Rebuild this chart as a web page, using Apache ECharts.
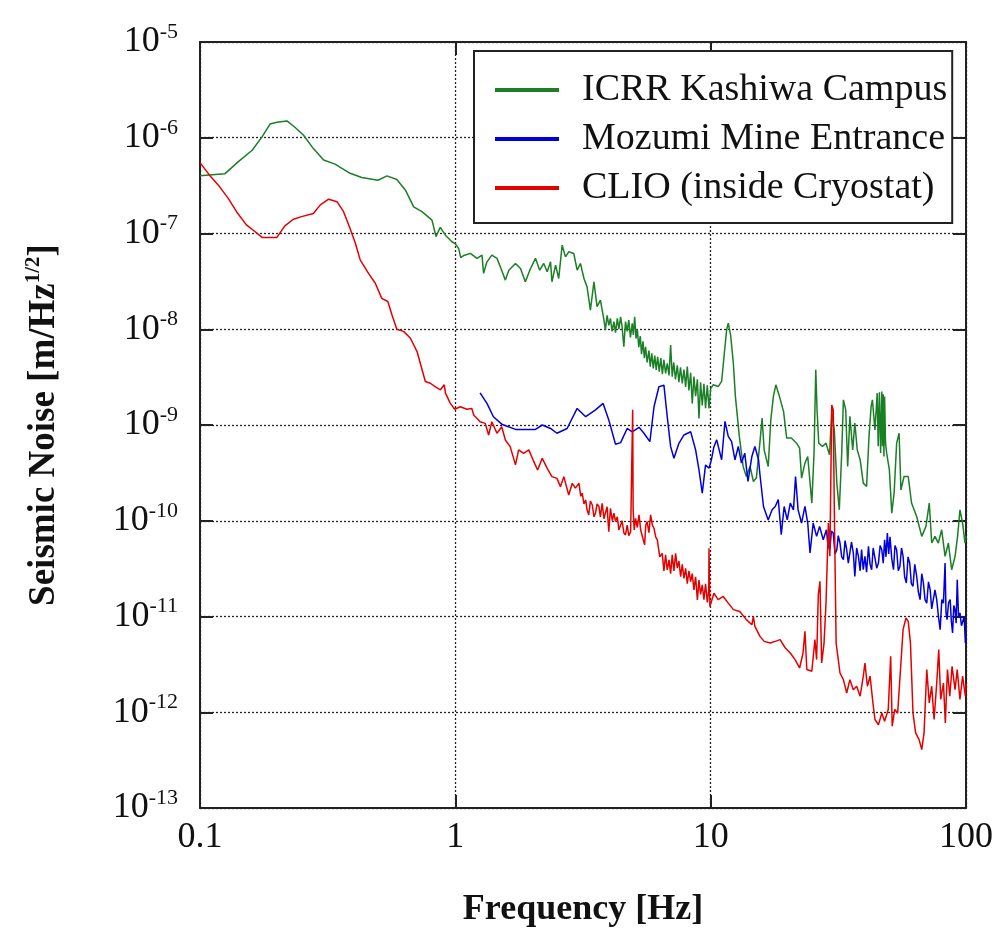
<!DOCTYPE html>
<html>
<head>
<meta charset="utf-8">
<title>Seismic Noise</title>
<script src="https://cdn.jsdelivr.net/npm/echarts@6/dist/echarts.min.js"></script>
<style>
  html, body { margin: 0; padding: 0; background: #fff; }
  #chart { width: 994px; height: 929px; }
</style>
</head>
<body>
<div id="chart"></div>
<script>
// Seismic noise spectra, each point is [frequency in Hz, amplitude in m/Hz^1/2]

const seriesNames = ['ICRR Kashiwa Campus', 'Mozumi Mine Entrance', 'CLIO (inside Cryostat)'];
const xTickLabels = ['0.1', '1', '10', '100'];

const kashiwa = [
  [0.1, 4.0e-7], [0.125, 4.2e-7], [0.141, 5.6e-7], [0.160, 7.4e-7], [0.175, 1.02e-6], [0.188, 1.39e-6],
  [0.200, 1.45e-6], [0.219, 1.50e-6], [0.236, 1.28e-6], [0.254, 1.07e-6], [0.278, 7.7e-7], [0.305, 5.85e-7],
  [0.338, 5.3e-7], [0.387, 4.25e-7], [0.430, 3.85e-7], [0.498, 3.6e-7], [0.540, 4.0e-7], [0.590, 3.67e-7],
  [0.637, 2.85e-7], [0.687, 1.9e-7], [0.740, 1.69e-7], [0.810, 1.38e-7], [0.840, 9.3e-8], [0.873, 1.16e-7],
  [0.914, 9.6e-8], [0.970, 8.2e-8], [1.0, 7.8e-8], [1.03, 7.0e-8], [1.05, 5.6e-8], [1.08, 5.9e-8],
  [1.145, 6.2e-8], [1.216, 5.5e-8], [1.272, 5.94e-8], [1.29, 3.83e-8], [1.33, 5.06e-8], [1.39, 5.94e-8],
  [1.456, 5.5e-8], [1.50, 4.49e-8], [1.57, 3.26e-8], [1.62, 4.14e-8], [1.72, 4.86e-8], [1.80, 4.31e-8],
  [1.88, 3.13e-8], [1.97, 4.31e-8], [2.06, 5.5e-8], [2.14, 4.14e-8], [2.22, 4.86e-8], [2.29, 3.98e-8],
  [2.36, 5.06e-8], [2.39, 3.13e-8], [2.47, 4.67e-8], [2.54, 3.39e-8], [2.62, 7.55e-8], [2.70, 5.7e-8],
  [2.78, 6.44e-8], [2.91, 6.18e-8], [3.0, 4.14e-8], [3.09, 4.86e-8], [3.19, 3.39e-8], [3.28, 2.77e-8],
  [3.38, 1.58e-8], [3.49, 3.13e-8], [3.59, 1.72e-8], [3.70, 2.01e-8],
  [3.82, 1.25e-8], [3.87, 9.8e-9], [3.93, 1.4e-8], [3.99, 1.1e-8], [4.05, 1.3e-8], [4.11, 9.5e-9],
  [4.18, 1.2e-8], [4.24, 9.2e-9], [4.31, 1.3e-8], [4.37, 1.0e-8], [4.44, 1.35e-8], [4.50, 1.05e-8],
  [4.57, 6.56e-9], [4.64, 1.2e-8], [4.71, 9.5e-9], [4.78, 1.25e-8], [4.85, 8.2e-9], [4.93, 1.15e-8],
  [4.98, 8.7e-9], [5.04, 1.35e-8], [5.10, 8.0e-9], [5.16, 1.0e-8], [5.23, 6.5e-9], [5.30, 8.5e-9],
  [5.36, 5.5e-9], [5.43, 7.5e-9], [5.50, 5.0e-9], [5.56, 6.56e-9], [5.64, 4.5e-9], [5.73, 6.0e-9],
  [5.80, 4.07e-9], [5.88, 5.6e-9], [5.96, 3.9e-9], [6.04, 5.3e-9], [6.12, 3.75e-9], [6.20, 5.16e-9],
  [6.29, 3.6e-9], [6.38, 5.0e-9], [6.47, 3.4e-9], [6.56, 4.8e-9], [6.66, 3.46e-9], [6.76, 4.4e-9],
  [6.87, 3.3e-9], [6.97, 6.84e-9], [7.07, 3.19e-9], [7.17, 4.5e-9], [7.28, 3.0e-9], [7.40, 4.2e-9],
  [7.51, 2.8e-9], [7.62, 4.0e-9], [7.74, 2.72e-9], [7.86, 3.8e-9], [7.98, 2.5e-9], [8.10, 4.07e-9],
  [8.22, 2.3e-9], [8.35, 3.5e-9], [8.47, 1.68e-9], [8.60, 3.2e-9], [8.73, 2.0e-9], [8.87, 3.0e-9],
  [9.0, 1.17e-9], [9.13, 2.8e-9], [9.27, 1.6e-9], [9.41, 2.7e-9], [9.55, 1.5e-9], [9.70, 2.6e-9],
  [9.85, 1.49e-9], [10.0, 2.4e-9], [10.15, 2.51e-9], [10.24, 2.63e-9], [10.7, 2.52e-9], [11.04, 2.85e-9],
  [11.28, 5.19e-9], [11.55, 9.84e-9], [11.72, 1.16e-8], [11.97, 8.7e-9], [12.27, 4.41e-9], [12.5, 1.98e-9],
  [12.95, 7.6e-10], [13.4, 3.69e-10], [13.8, 2.9e-10], [14.26, 3.69e-10], [14.7, 2.57e-10], [15.1, 2.79e-10],
  [15.6, 6.7e-10], [15.9, 1.18e-9], [16.2, 5.5e-10], [16.8, 3.69e-10], [17.2, 1.13e-9], [17.6, 1.98e-9],
  [18.0, 2.63e-9], [18.6, 1.98e-9], [19.3, 1.38e-9], [19.85, 7.3e-10], [20.7, 7.3e-10], [21.7, 6.46e-10],
  [22.3, 5.73e-10], [22.7, 2.79e-10], [23.4, 4.0e-10], [24.0, 4.69e-10], [24.9, 1.53e-10], [25.4, 5.08e-10],
  [25.8, 3.77e-9], [26.1, 1.44e-9], [26.5, 6.46e-10], [27.4, 5.97e-10], [28.3, 6.46e-10], [29.2, 4.89e-10],
  [29.8, 1.33e-9], [30.5, 8.9e-10], [31.2, 2.47e-10], [31.9, 1.3e-10], [32.6, 5.08e-10], [33.1, 1.83e-9],
  [33.8, 1.44e-9], [34.4, 3.69e-10], [35.1, 1.23e-9], [36.0, 5.5e-10], [36.7, 1.05e-9], [37.5, 5.5e-10],
  [38.5, 4.33e-10], [39.6, 2.47e-10], [40.8, 2.28e-10], [41.7, 7.6e-10], [42.5, 1.56e-9], [43.0, 1.83e-9],
  [44.0, 8.9e-10], [44.9, 2.15e-9], [45.3, 6.0e-10], [45.8, 2.2e-9], [46.3, 5.1e-10], [46.8, 2.24e-9],
  [47.1, 6.0e-10], [47.4, 2.1e-9], [47.7, 4.7e-10], [48.0, 1.98e-9], [48.4, 6.5e-10], [48.9, 5.08e-10],
  [50.1, 3.4e-10], [51.2, 1.2e-10], [52.3, 1.95e-10], [53.5, 6.46e-10], [54.7, 8.2e-10], [55.6, 2.1e-10],
  [57.2, 2.9e-10], [59.4, 2.9e-10], [61.2, 1.53e-10], [64.1, 1.11e-10], [67.1, 6.87e-11], [69.7, 8.73e-11],
  [71.8, 1.53e-10], [73.4, 5.85e-11], [75.6, 6.87e-11], [77.9, 5.85e-11], [80.3, 8.05e-11], [82.8, 4.25e-11],
  [85.3, 5.85e-11], [87.9, 3.08e-11], [90.6, 4.25e-11], [92.7, 6.87e-11], [94.7, 1.3e-10], [97.0, 9.46e-11],
  [99.1, 5.85e-11], [100, 7.0e-11]
];

const mozumi = [
  [1.25, 2.17e-9], [1.33, 1.68e-9], [1.41, 1.22e-9], [1.52, 1.02e-9], [1.72, 9.0e-10], [2.06, 9.0e-10],
  [2.19, 1.0e-9], [2.36, 9.2e-10], [2.50, 8.2e-10], [2.74, 9.2e-10], [3.0, 1.49e-9], [3.24, 1.22e-9],
  [3.54, 1.44e-9], [3.79, 1.68e-9], [3.99, 1.13e-9], [4.24, 6.3e-10], [4.44, 6.55e-10], [4.71, 9.2e-10],
  [4.93, 8.5e-10], [5.24, 9.46e-10], [5.48, 8.2e-10], [5.78, 6.7e-10], [6.0, 1.55e-9], [6.27, 2.51e-9],
  [6.56, 2.61e-9], [6.76, 1.22e-9], [6.97, 5.94e-10], [7.18, 4.49e-10], [7.51, 6.44e-10], [7.86, 7.87e-10],
  [8.35, 8.5e-10], [8.73, 5.5e-10], [9.0, 3.39e-10], [9.27, 1.94e-10], [9.55, 3.83e-10], [9.85, 3.53e-10],
  [10.06, 4.3e-10], [10.3, 5.94e-10], [10.56, 7.0e-10], [11.04, 4.33e-10], [11.38, 1.09e-9], [11.72, 7.6e-10],
  [12.08, 6.7e-10], [12.45, 4.33e-10], [12.83, 5.97e-10], [13.2, 4.0e-10], [13.6, 5.08e-10], [14.0, 2.57e-10],
  [14.5, 4.69e-10], [14.9, 5.97e-10], [15.4, 4.33e-10], [15.6, 3.02e-10], [16.1, 1.41e-10], [16.8, 1.02e-10],
  [17.4, 1.3e-10], [17.9, 1.41e-10], [18.4, 1.66e-10], [18.9, 7.15e-11], [19.4, 1.41e-10], [19.95, 1.02e-10],
  [20.5, 1.53e-10], [21.1, 1.3e-10], [21.5, 2.9e-10], [22.0, 1.3e-10], [22.7, 9.46e-11], [23.4, 1.41e-10],
  [24.0, 9.46e-11], [24.5, 4.6e-11], [25.2, 9.46e-11], [26.0, 6.87e-11], [26.7, 8.73e-11], [27.6, 6.34e-11],
  [28.4, 8.05e-11], [28.8, 5.5e-11], [29.3, 4.98e-11], [29.7, 7.8e-11], [30.2, 7.43e-11], [30.7, 4.5e-11],
  [31.2, 4.98e-11], [31.6, 7.0e-11], [32.1, 5.85e-11], [32.6, 4.2e-11], [33.1, 3.92e-11], [33.6, 6.2e-11],
  [34.1, 4.98e-11], [34.6, 3.6e-11], [35.1, 3.61e-11], [35.6, 6.0e-11], [36.2, 4.6e-11], [36.7, 2.62e-11],
  [37.3, 5.2e-11], [37.9, 4.25e-11], [38.5, 3.0e-11], [39.0, 5.0e-11], [39.6, 3.08e-11], [40.2, 4.25e-11],
  [40.8, 2.9e-11], [41.5, 5.4e-11], [42.1, 3.5e-11], [42.7, 3.08e-11], [43.3, 5.2e-11], [44.0, 4.98e-11],
  [44.7, 3.2e-11], [45.4, 3.61e-11], [46.1, 5.5e-11], [46.8, 4.98e-11], [47.4, 3.6e-11], [48.0, 6.34e-11],
  [48.6, 4.2e-11], [49.2, 7.43e-11], [49.8, 4.5e-11], [50.4, 6.8e-11], [51.2, 4.0e-11], [52.0, 3.08e-11],
  [52.7, 5.5e-11], [53.5, 4.98e-11], [54.3, 3.0e-11], [55.1, 3.33e-11], [55.9, 5.2e-11], [56.7, 4.25e-11],
  [57.5, 2.6e-11], [58.4, 2.24e-11], [59.3, 4.2e-11], [60.2, 3.61e-11], [61.1, 2.2e-11], [62.0, 2.07e-11],
  [63.0, 3.5e-11], [64.1, 2.62e-11], [65.1, 1.8e-11], [66.1, 1.5e-11], [67.1, 2.8e-11], [68.1, 2.24e-11],
  [69.1, 1.5e-11], [70.2, 1.38e-11], [71.3, 2.3e-11], [72.4, 1.9e-11], [73.4, 1.2e-11], [74.5, 1.18e-11],
  [75.6, 1.9e-11], [76.8, 1.5e-11], [78.0, 1.0e-11], [79.2, 7.3e-12], [80.4, 1.5e-11], [81.6, 1.38e-11],
  [82.8, 3.61e-11], [83.5, 1.1e-11], [84.3, 9.27e-12], [85.5, 1.4e-11], [86.7, 1.5e-11], [87.6, 9.0e-12],
  [88.6, 6.73e-12], [89.6, 1.3e-11], [90.6, 1.18e-11], [91.5, 8.5e-12], [92.4, 2.42e-11], [93.5, 1.0e-11],
  [94.7, 1.09e-11], [96.0, 8.0e-12], [97.4, 7.9e-12], [98.4, 1.0e-11], [99.4, 5.28e-12], [100, 6.0e-12]
];

const clio = [
  [0.1, 5.5e-7], [0.109, 4.07e-7], [0.118, 3.2e-7], [0.129, 2.33e-7], [0.139, 1.69e-7], [0.152, 1.23e-7],
  [0.164, 1.05e-7], [0.175, 9.1e-8], [0.200, 9.1e-8], [0.215, 1.2e-7], [0.232, 1.41e-7], [0.250, 1.5e-7],
  [0.278, 1.62e-7], [0.296, 1.99e-7], [0.319, 2.28e-7], [0.344, 2.15e-7], [0.365, 1.69e-7], [0.387, 1.13e-7],
  [0.406, 7.9e-8], [0.424, 5.3e-8], [0.457, 3.84e-8], [0.486, 3.02e-8], [0.515, 2.1e-8], [0.544, 1.95e-8],
  [0.565, 1.41e-8], [0.590, 1.0e-8], [0.627, 9.5e-9], [0.667, 8.05e-9], [0.708, 5.85e-9], [0.763, 2.85e-9],
  [0.798, 2.73e-9], [0.836, 2.5e-9], [0.874, 2.33e-9], [0.905, 2.63e-9], [0.915, 2.15e-9], [0.955, 1.69e-9],
  [0.994, 1.46e-9], [1.046, 1.55e-9], [1.11, 1.46e-9], [1.16, 1.49e-9], [1.18, 1.27e-9], [1.25, 1.08e-9],
  [1.31, 1.04e-9], [1.35, 7.87e-10], [1.39, 1.08e-9], [1.456, 8.2e-10], [1.52, 9.6e-10], [1.57, 6.97e-10],
  [1.64, 5.94e-10], [1.72, 3.83e-10], [1.77, 5.5e-10], [1.85, 5.06e-10], [1.94, 5.5e-10], [2.03, 4.14e-10],
  [2.10, 3.39e-10], [2.19, 4.49e-10], [2.29, 3.53e-10], [2.39, 2.89e-10], [2.50, 2.77e-10], [2.58, 2.27e-10],
  [2.66, 2.89e-10], [2.78, 1.86e-10], [2.87, 2.46e-10], [2.95, 2.19e-10],
  [3.05, 2.46e-10], [3.10, 1.8e-10], [3.14, 1.94e-10], [3.19, 1.5e-10], [3.24, 1.65e-10], [3.28, 1.3e-10],
  [3.33, 1.15e-10], [3.38, 1.6e-10], [3.44, 1.46e-10], [3.49, 1.1e-10], [3.54, 1.2e-10], [3.59, 1.5e-10],
  [3.65, 1.41e-10], [3.70, 1.1e-10], [3.76, 1.52e-10], [3.82, 1.05e-10], [3.87, 1.2e-10], [3.93, 1.4e-10],
  [3.99, 7.7e-11], [4.05, 1.35e-10], [4.12, 1.0e-10], [4.18, 1.2e-10], [4.24, 9.8e-11], [4.31, 1.1e-10],
  [4.37, 8.0e-11], [4.44, 8.35e-11], [4.50, 1.0e-10], [4.57, 7.5e-11], [4.64, 7.1e-11], [4.71, 9.0e-11],
  [4.78, 7.0e-11], [4.86, 7.7e-11], [4.93, 7.5e-11], [4.95, 1.44e-9], [4.97, 1.3e-10], [5.02, 8.0e-11],
  [5.08, 1.06e-10], [5.16, 8.5e-11], [5.24, 1.15e-10], [5.32, 8.0e-11], [5.40, 7.7e-11], [5.51, 5.6e-11],
  [5.57, 9.0e-11], [5.64, 9.8e-11], [5.73, 7.5e-11], [5.82, 1.15e-10], [5.91, 9.0e-11], [6.0, 8.35e-11],
  [6.09, 6.8e-11], [6.18, 6.3e-11], [6.32, 4.2e-11], [6.46, 4.57e-11], [6.56, 3.0e-11], [6.66, 4.4e-11],
  [6.76, 3.07e-11], [6.87, 3.9e-11], [6.97, 2.8e-11], [7.07, 4.4e-11], [7.18, 3.0e-11], [7.29, 4.57e-11],
  [7.40, 3.2e-11], [7.51, 3.8e-11], [7.63, 2.61e-11], [7.74, 3.5e-11], [7.86, 2.5e-11], [7.98, 3.19e-11],
  [8.10, 2.2e-11], [8.22, 3.0e-11], [8.35, 2.32e-11], [8.47, 2.8e-11], [8.60, 1.9e-11], [8.73, 2.6e-11],
  [8.87, 1.49e-11], [9.0, 2.4e-11], [9.13, 1.7e-11], [9.27, 2.14e-11], [9.41, 1.5e-11], [9.55, 2.2e-11],
  [9.70, 1.4e-11], [9.83, 1.9e-11], [9.85, 5.16e-11], [9.93, 1.27e-11], [10.3, 1.75e-11], [10.7, 1.5e-11],
  [11.2, 1.62e-11], [11.72, 1.38e-11], [12.27, 1.18e-11], [13.0, 1.13e-11], [13.8, 9.27e-12], [14.5, 8.2e-12],
  [14.7, 1.0e-11], [14.9, 7.9e-12], [15.6, 6.2e-12], [16.2, 5.5e-12], [17.1, 5.28e-12], [17.9, 5.5e-12],
  [18.7, 5.73e-12], [19.6, 4.69e-12], [20.5, 4.16e-12], [21.4, 3.55e-12], [22.3, 2.9e-12], [23.0, 4.16e-12],
  [23.4, 7.0e-12], [23.8, 2.79e-12], [24.9, 2.68e-12], [25.6, 5.73e-12], [26.0, 3.55e-12], [26.4, 1.69e-11],
  [26.8, 2.33e-11], [27.2, 3.27e-12], [27.8, 5.28e-12], [28.3, 1.38e-11], [28.9, 9.46e-11], [29.3, 4.25e-11],
  [29.8, 1.62e-9], [30.2, 1.44e-9], [30.5, 1.3e-10], [31.0, 5.28e-12], [32.1, 2.57e-12], [33.1, 2.19e-12],
  [34.1, 1.59e-12], [35.1, 2.19e-12], [36.2, 1.72e-12], [37.3, 1.87e-12], [38.5, 1.47e-12], [39.6, 2.38e-12],
  [40.2, 3.27e-12], [41.1, 1.87e-12], [42.1, 2.38e-12], [43.2, 1.25e-12], [44.0, 8.4e-13], [45.4, 7.4e-13],
  [46.8, 9.8e-13], [48.0, 8.05e-13], [49.6, 1.07e-12], [50.7, 3.84e-12], [51.4, 7.14e-13], [52.6, 1.07e-12],
  [54.0, 9.8e-13], [55.6, 3.27e-12], [56.7, 7.3e-12], [58.2, 9.64e-12], [59.4, 8.9e-12], [60.6, 5.28e-12],
  [62.0, 9.8e-13], [63.5, 6.08e-13], [65.5, 5.18e-13], [67.1, 4.07e-13], [68.5, 6.08e-13], [70.2, 2.79e-12],
  [71.8, 1.25e-12], [73.4, 1.87e-12], [75.0, 8.4e-13], [76.8, 2.02e-12], [78.2, 4.51e-12], [79.6, 1.36e-12],
  [81.6, 2.02e-12], [83.0, 7.74e-13], [84.6, 2.79e-12], [86.4, 1.47e-12], [88.2, 3.02e-12], [90.6, 1.72e-12],
  [92.4, 2.79e-12], [94.7, 1.36e-12], [97.0, 2.38e-12], [99.4, 1.47e-12], [100, 2.0e-12]
];

const colors = ['#1a7f25', '#0000dc', '#e50000'];
const serif = '"Liberation Serif", "DejaVu Serif", serif';

const chart = echarts.init(document.getElementById('chart'), null, { renderer: 'canvas' });

// shared frame styling: solid border with inward ticks on all four sides
const frameAxisX = {
  type: 'log', logBase: 10, min: 0.1, max: 100,
  axisLine: { show: true, onZero: false, lineStyle: { color: '#222', width: 2 } },
  axisTick: { show: true, inside: true, length: 13, lineStyle: { color: '#222', width: 2 } },
  minorTick: { show: false }
};
const frameAxisY = {
  type: 'log', logBase: 10, min: 1e-13, max: 1e-5, interval: 1,
  axisLine: { show: true, onZero: false, lineStyle: { color: '#222', width: 2 } },
  axisTick: { show: true, inside: true, length: 13, lineStyle: { color: '#222', width: 2 } },
  minorTick: { show: false }
};
const dottedGrid = { show: true, lineStyle: { color: '#222', width: 1.3, type: [2, 2] } };

const option = {
  backgroundColor: '#fff',
  animation: false,
  color: colors,
  grid: { left: 200, right: 28, top: 42, bottom: 121, containLabel: false, outerBoundsMode: 'none' },
  xAxis: [
    Object.assign({}, frameAxisX, {
      position: 'bottom',
      name: 'Frequency [Hz]',
      nameLocation: 'middle',
      nameGap: 84,
      nameTextStyle: { fontFamily: serif, fontSize: 36, fontWeight: 'bold', color: '#111' },
      axisLabel: {
        margin: 12, fontFamily: serif, fontSize: 36, color: '#111',
        formatter: v => {
          const k = Math.round(Math.log10(v)) + 1;
          return xTickLabels[k] !== undefined ? xTickLabels[k] : '';
        }
      },
      splitLine: dottedGrid
    }),
    Object.assign({}, frameAxisX, {
      position: 'top',
      axisLabel: { show: false },
      splitLine: { show: false }
    })
  ],
  yAxis: [
    Object.assign({}, frameAxisY, {
      position: 'left',
      name: '{t|Seismic Noise [m/Hz}{s|1/2}{t|]}',
      nameLocation: 'middle',
      nameRotate: 90,
      nameGap: 135,
      nameTextStyle: {
        rich: {
          t: { fontFamily: serif, fontSize: 37, fontWeight: 'bold', color: '#111', lineHeight: 42 },
          s: { fontFamily: serif, fontSize: 21, fontWeight: 'bold', color: '#111', lineHeight: 10, verticalAlign: 'top' }
        }
      },
      axisLabel: {
        margin: 22,
        formatter: v => '{b|10}{s|' + Math.round(Math.log10(v)) + '}',
        rich: {
          b: { fontFamily: serif, fontSize: 36, color: '#111', lineHeight: 42 },
          s: { fontFamily: serif, fontSize: 22, color: '#111', lineHeight: 10, verticalAlign: 'top' }
        }
      },
      splitLine: dottedGrid
    }),
    Object.assign({}, frameAxisY, {
      position: 'right',
      axisLabel: { show: false },
      splitLine: { show: false }
    })
  ],
  legend: {
    show: true,
    orient: 'vertical',
    left: 474,
    top: 51,
    padding: [19, 5, 15, 21],
    itemGap: 9,
    itemWidth: 64,
    itemHeight: 4,
    icon: 'rect',
    backgroundColor: '#fff',
    borderColor: '#222',
    borderWidth: 2,
    borderRadius: 0,
    z: 10,
    textStyle: { fontFamily: serif, fontSize: 38, color: '#111', lineHeight: 40, padding: [0, 0, 0, 18] },
    data: seriesNames
  },
  series: [kashiwa, mozumi, clio].map((points, i) => ({
    name: seriesNames[i],
    type: 'line',
    data: points,
    xAxisIndex: 0, yAxisIndex: 0,
    showSymbol: false, symbol: 'none',
    lineStyle: { width: 1.5, color: colors[i] },
    itemStyle: { color: colors[i] },
    z: 2
  }))
};

chart.setOption(option);
</script>
</body>
</html>
